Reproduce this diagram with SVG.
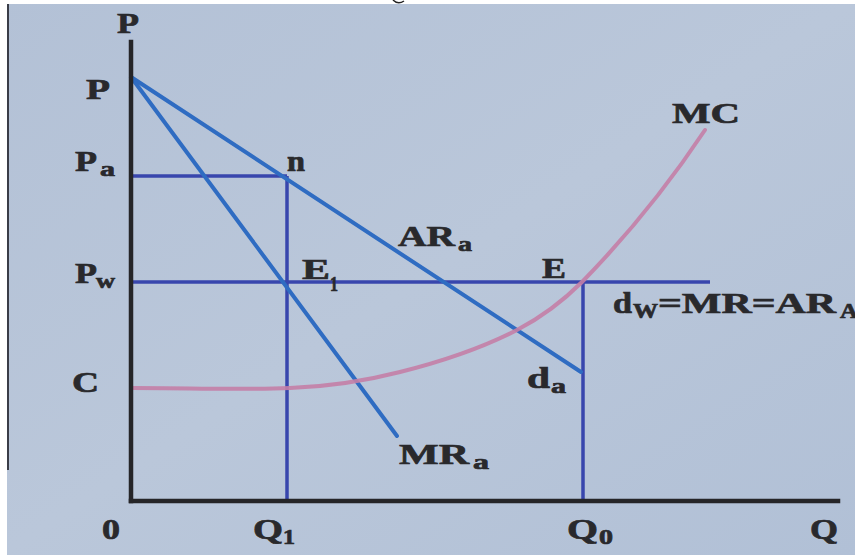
<svg xmlns="http://www.w3.org/2000/svg" width="855" height="555" viewBox="0 0 855 555">
<defs>
<linearGradient id="bg" x1="0" y1="0" x2="1" y2="1">
<stop offset="0" stop-color="#b3c1d6"/>
<stop offset="0.5" stop-color="#bac7da"/>
<stop offset="1" stop-color="#b1c0d6"/>
</linearGradient>
</defs>
<style>
.lbl{font-family:"Liberation Serif","Times New Roman",serif;font-weight:bold;fill:#29292c;stroke:#29292c;stroke-width:0.7;font-size:30px}
.sub{font-size:21px}
.axis{stroke:#252528;stroke-width:4.5;fill:none;stroke-linecap:square}
.dem{stroke:#2f6cc2;stroke-width:4;fill:none;stroke-linecap:round}
.guide{stroke:#3846ad;stroke-width:3.5;fill:none}
.mc{stroke:#c47ea6;stroke-width:4;fill:none;stroke-linecap:round;opacity:0.9}
</style>
<rect width="855" height="555" fill="url(#bg)"/>
<rect x="0" y="0" width="855" height="4" fill="#ffffff"/>
<rect x="0" y="0" width="7" height="555" fill="#ffffff"/>
<line x1="8" y1="4" x2="8" y2="470" stroke="#3a3d48" stroke-width="2"/>
<path d="M393,0 Q398,5 404,1" stroke="#222" stroke-width="1.5" fill="none"/>

<g id="guides">
<line class="guide" x1="131" y1="176" x2="287" y2="176"/>
<line class="guide" x1="287" y1="176" x2="287" y2="501"/>
<line class="guide" x1="131" y1="282" x2="710" y2="282"/>
<line class="guide" x1="583" y1="282" x2="583" y2="501"/>
</g>

<g id="curves">
<line id="ARa" class="dem" x1="131" y1="77" x2="581" y2="372"/>
<line id="MRa" class="dem" x1="131" y1="77" x2="397" y2="436"/>
<path id="MC" class="mc" d="M133,388 C190,388 240,390 290,388 C330,386.5 365,381 400,372 C440,362 480,349 517,330 C540,318 562,302 582,282 C625,238 665,190 705,130"/>
</g>

<g id="axes">
<line class="axis" x1="131" y1="42" x2="131" y2="501"/>
<line class="axis" x1="131" y1="501" x2="838" y2="501"/>
</g>

<g id="labels">
<text class="lbl" x="117" y="33" textLength="22" lengthAdjust="spacingAndGlyphs">P</text>
<text class="lbl" x="86" y="99" textLength="24" lengthAdjust="spacingAndGlyphs">P</text>
<text class="lbl" x="75" y="171" textLength="22" lengthAdjust="spacingAndGlyphs">P</text>
<text class="lbl sub" x="100" y="176" textLength="15" lengthAdjust="spacingAndGlyphs">a</text>
<text class="lbl" x="75" y="283" textLength="22" lengthAdjust="spacingAndGlyphs">P</text>
<text class="lbl sub" x="96" y="288" textLength="19" lengthAdjust="spacingAndGlyphs">w</text>
<text class="lbl" x="72" y="392" textLength="27" lengthAdjust="spacingAndGlyphs">C</text>
<text class="lbl" x="102" y="539" textLength="18" lengthAdjust="spacingAndGlyphs">0</text>
<text class="lbl" x="253" y="539" textLength="30" lengthAdjust="spacingAndGlyphs">Q</text>
<text class="lbl sub" x="283" y="544" textLength="12" lengthAdjust="spacingAndGlyphs">1</text>
<text class="lbl" x="567" y="539" textLength="31" lengthAdjust="spacingAndGlyphs">Q</text>
<text class="lbl sub" x="599" y="544" textLength="14" lengthAdjust="spacingAndGlyphs">0</text>
<text class="lbl" x="810" y="539" textLength="28" lengthAdjust="spacingAndGlyphs">Q</text>
<text class="lbl" x="287" y="171" textLength="18" lengthAdjust="spacingAndGlyphs">n</text>
<text class="lbl" x="398" y="246" textLength="57" lengthAdjust="spacingAndGlyphs">AR</text>
<text class="lbl sub" x="458" y="251" textLength="14" lengthAdjust="spacingAndGlyphs">a</text>
<text class="lbl" x="302" y="279" textLength="28" lengthAdjust="spacingAndGlyphs">E</text>
<text class="lbl sub" x="330" y="291" textLength="8" lengthAdjust="spacingAndGlyphs">1</text>
<text class="lbl" x="542" y="278" textLength="24" lengthAdjust="spacingAndGlyphs">E</text>
<text class="lbl" x="672" y="123" textLength="68" lengthAdjust="spacingAndGlyphs">MC</text>
<text class="lbl" x="613" y="313" textLength="19" lengthAdjust="spacingAndGlyphs">d</text>
<text class="lbl sub" x="633" y="318" textLength="25" lengthAdjust="spacingAndGlyphs">W</text>
<text class="lbl" x="658" y="313" textLength="178" lengthAdjust="spacingAndGlyphs">=MR=AR</text>
<text class="lbl sub" x="840" y="318" textLength="18" lengthAdjust="spacingAndGlyphs">A</text>
<text class="lbl" x="527" y="388" textLength="23" lengthAdjust="spacingAndGlyphs">d</text>
<text class="lbl sub" x="551" y="393" textLength="15" lengthAdjust="spacingAndGlyphs">a</text>
<text class="lbl" x="399" y="464" textLength="70" lengthAdjust="spacingAndGlyphs">MR</text>
<text class="lbl sub" x="473" y="469" textLength="16" lengthAdjust="spacingAndGlyphs">a</text>
</g>
</svg>
